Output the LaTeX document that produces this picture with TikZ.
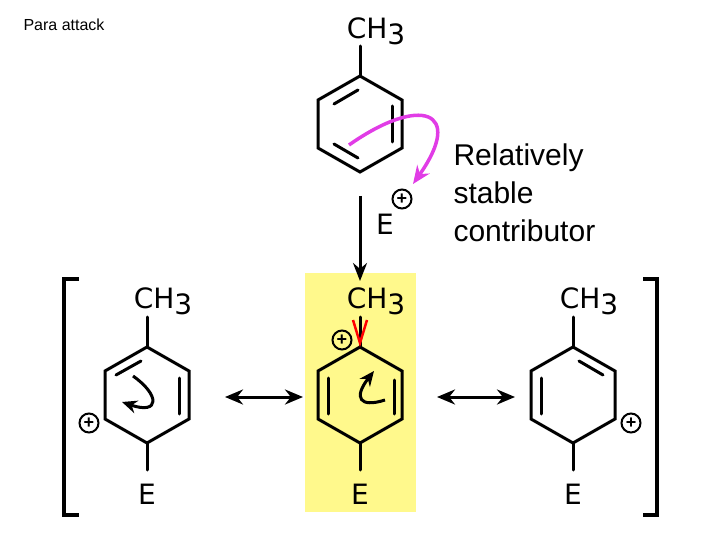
\documentclass[tikz,border=0pt]{standalone}
\usepackage{fontspec}
\setmainfont{Liberation Sans}
\newfontfamily\dv{DejaVu Sans}
\usetikzlibrary{arrows.meta}
\definecolor{mag}{RGB}{225,60,230}
\newcommand{\methyl}{CH\raisebox{-6pt}{3}}
\begin{document}
\begin{tikzpicture}[x=1pt,y=-1pt,
 bond/.style={line width=3pt,line cap=round},
 lab/.style={font=\dv\fontsize{28}{28}\selectfont,inner sep=0pt},
 plus/.style={circle,draw,line width=2pt,minimum size=19pt,inner sep=0pt,font=\bfseries\fontsize{18}{18}\selectfont},
 curly/.style={line width=3pt,-{Stealth[length=15pt,width=13pt]}},
 dbl/.style={line width=3pt,{Stealth[length=18pt,width=15pt]}-{Stealth[length=18pt,width=15pt]}}]
\useasboundingbox (0,0) rectangle (720,540);
\fill[yellow!45] (305,273) rectangle (416,512);
\node[font=\fontsize{16}{16}\selectfont,anchor=west] (title) at (20,25) {Para attack};
\node[font=\fontsize{30}{38}\selectfont,anchor=north west,align=left] (rel) at (450,140) {Relatively\\stable\\contributor};
\foreach \cx/\cy [count=\i] in {360/124,147/395,360/395,573/395}{
  \draw[bond] (\cx,\cy-48) -- (\cx+42,\cy-24) -- (\cx+42,\cy+24) -- (\cx,\cy+48) -- (\cx-42,\cy+24) -- (\cx-42,\cy-24) -- cycle;
  \draw[bond] (\cx,\cy-48) -- (\cx,\cy-78);
}
\draw[bond] (334,104) -- (358,90); \draw[bond] (392,106) -- (392,142); \draw[bond] (334,144) -- (358,158);
\node[lab] (ch3a) at (376,31) {\methyl};
\node[lab] (e0) at (385,224) {E};
\node[plus] (p0) at (402,199) {+};
\coordinate (a1) at (360,196); \coordinate (a2) at (360,281);
\draw[line width=3pt,-{Stealth[length=18pt,width=14pt]}] (a1) -- (a2);
\coordinate (m1) at (349,145);\coordinate (m2) at (413,184);
\draw[mag,line width=3.5pt,-{Stealth[length=18pt,width=15pt]}] (m1) .. controls (420,95) and (465,110) .. (m2);
\foreach \cx [count=\i] in {147,360,573}{
  \draw[bond] (\cx,443) -- (\cx,470);
  \node[lab] (ch\i) at (\cx+16,301) {\methyl};
  \node[lab] (e\i) at (\cx,494) {E};
}
\draw[bond] (116,375) -- (141,361); \draw[bond] (179,378) -- (179,414);
\node[plus] (p1) at (89,423) {+};
\draw[curly] (133,376) .. controls (160,395) and (160,415) .. (122,402);
\draw[bond] (328,378) -- (328,414); \draw[bond] (394,380) -- (394,414);
\node[plus] (p2) at (342,340) {+};
\draw[curly] (385,400) .. controls (360,408) and (353,398) .. (374,371);
\draw[red,line width=2.5pt] (353,320) -- (360,343) -- (367,320);
\draw[bond] (541,378) -- (541,414); \draw[bond] (579,361) -- (603,375);
\node[plus] (p3) at (631,423) {+};
\coordinate (d1) at (225,397);\coordinate (d2) at (303,397);
\coordinate (d3) at (437,397);\coordinate (d4) at (515,397);
\draw[dbl] (d1) -- (d2); \draw[dbl] (d3) -- (d4);
\draw[line width=3.2pt] (79,279) -- (64,279) -- (64,515) -- (79,515);
\draw[line width=3.2pt] (643,279) -- (657,279) -- (657,515) -- (643,515);
\end{tikzpicture}
\end{document}
